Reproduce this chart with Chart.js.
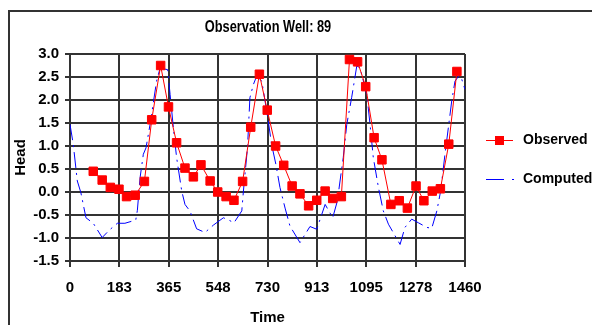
<!DOCTYPE html>
<html lang="en">
<head>
<meta charset="UTF-8">
<title>Observation Well: 89</title>
<script src="https://cdn.jsdelivr.net/npm/chart.js"></script>
<style>
  html, body { margin: 0; padding: 0; background: #fff; }
  #wrap { width: 592px; height: 325px; }
</style>
</head>
<body>
<div id="wrap"><canvas id="wellChart" width="592" height="325"></canvas></div>
<script>
const chartTitle = 'Observation Well: 89';
const xTickValues = [0, 182.5, 365, 547.5, 730, 912.5, 1095, 1277.5, 1460];
const xTickLabels = ['0', '183', '365', '548', '730', '913', '1095', '1278', '1460'];
const yTickLabels = ['-1.5', '-1.0', '-0.5', '0.0', '0.5', '1.0', '1.5', '2.0', '2.5', '3.0'];

// observed heads (red squares)
const obsDays = [86, 119, 149, 181, 209, 241, 275, 302, 335, 364, 394, 425, 456, 484, 518,
  546, 577, 606, 638, 668, 700, 729, 760, 790, 821, 850, 882, 912, 943, 971, 1003, 1033,
  1063, 1093, 1124, 1153, 1186, 1217, 1247, 1279, 1308, 1339, 1369, 1400, 1430];
const obsHead = [0.45, 0.26, 0.10, 0.06, -0.10, -0.07, 0.23, 1.57, 2.75, 1.85, 1.07, 0.52, 0.33, 0.59, 0.24,
  0.00, -0.10, -0.18, 0.23, 1.41, 2.56, 1.78, 1.00, 0.58, 0.13, -0.04, -0.30, -0.18, 0.02, -0.14, -0.10, 2.88,
  2.83, 2.29, 1.18, 0.70, -0.27, -0.19, -0.35, 0.13, -0.19, 0.02, 0.07, 1.04, 2.62];

// computed heads (blue dashed)
const compDays = [0, 12, 27, 40, 59, 86, 119, 145, 175, 203, 243, 249, 259, 271, 281, 296, 320, 333,
  361, 370, 382, 394, 413, 425, 444, 468, 499, 530, 567, 590, 606, 635, 641, 656, 665, 678, 690,
  709, 733, 745, 761, 776, 795, 813, 850, 887, 912, 943, 971, 988, 1010, 1023, 1041, 1060, 1072,
  1097, 1109, 1121, 1140, 1158, 1177, 1220, 1238, 1263, 1288, 1319, 1337, 1356, 1370, 1386, 1411,
  1423, 1442, 1460];
const compHead = [1.47, 1.04, 0.24, -0.01, -0.56, -0.68, -0.99, -0.83, -0.68, -0.68, -0.61, -0.40, 0.31, 0.82, 0.96, 1.47, 2.41, 2.69,
  2.66, 2.12, 1.40, 0.75, 0.02, -0.27, -0.42, -0.80, -0.88, -0.72, -0.56, -0.62, -0.67, -0.41, 0.02, 0.96, 2.05, 2.34, 2.52,
  2.41, 1.54, 1.04, 0.60, 0.10, -0.35, -0.74, -1.10, -0.75, -0.81, -0.27, -0.56, -0.20, 0.75, 1.47, 2.05, 2.74, 2.70,
  2.12, 1.47, 0.75, 0.10, -0.41, -0.70, -1.14, -0.77, -0.59, -0.67, -0.77, -0.79, -0.41, 0.02, 0.82, 1.98,
  2.41, 2.56, 2.23];

const tickFont = { family: '"Liberation Sans", Arial, sans-serif', size: 15, weight: 'bold' };
const gridColor = '#333';

const extras = {
  id: 'extras',
  beforeDraw(chart) {
    const ctx = chart.ctx;
    ctx.save();
    ctx.fillStyle = '#fff';
    ctx.fillRect(0, 0, chart.width, chart.height);
    ctx.strokeStyle = '#333';
    ctx.lineWidth = 2;
    ctx.beginPath();
    ctx.moveTo(9, chart.height);
    ctx.lineTo(9, 11);
    ctx.lineTo(chart.width, 11);
    ctx.stroke();
    ctx.restore();
  },
  afterDraw(chart) {
    const ctx = chart.ctx;
    const obs = chart.data.datasets[0];
    const comp = chart.data.datasets[1];
    ctx.save();
    ctx.fillStyle = '#000';
    ctx.textBaseline = 'middle';
    ctx.textAlign = 'center';
    // narrow bold title: squeeze a regular face horizontally
    ctx.font = 'bold 16px "Liberation Sans", Arial, sans-serif';
    ctx.save();
    ctx.translate(268, 28);
    ctx.scale(0.8, 1);
    ctx.fillText(chartTitle, 0, 0);
    ctx.restore();

    // legend
    ctx.lineWidth = 1;
    ctx.strokeStyle = obs.borderColor;
    ctx.beginPath();
    ctx.moveTo(486, 140.5);
    ctx.lineTo(513, 140.5);
    ctx.stroke();
    ctx.fillStyle = obs.pointBackgroundColor;
    ctx.fillRect(495, 136, 9, 9);

    ctx.strokeStyle = comp.borderColor;
    ctx.beginPath();
    ctx.moveTo(486, 179.5);
    ctx.lineTo(504, 179.5);
    ctx.stroke();
    ctx.fillStyle = comp.borderColor;
    ctx.fillRect(512, 179, 2, 1);

    ctx.fillStyle = '#000';
    ctx.textAlign = 'left';
    ctx.font = 'bold 14px "Liberation Sans", Arial, sans-serif';
    ctx.fillText(obs.label, 523, 140);
    ctx.fillText(comp.label, 523, 179);
    ctx.restore();
  }
};

new Chart(document.getElementById('wellChart'), {
  type: 'line',
  data: {
    datasets: [
      {
        label: 'Observed',
        data: obsDays.map((d, i) => ({ x: d, y: obsHead[i] })),
        borderColor: '#ff0000',
        backgroundColor: '#ff0000',
        pointBackgroundColor: '#ff0000',
        pointBorderColor: '#ff0000',
        pointStyle: 'rect',
        pointRadius: 6,
        pointBorderWidth: 1,
        borderWidth: 1,
        tension: 0,
        order: 1
      },
      {
        label: 'Computed',
        data: compDays.map((d, i) => ({ x: d, y: compHead[i] })),
        borderColor: '#0000ff',
        borderWidth: 1,
        borderDash: [16, 5, 2, 5],
        pointRadius: 0,
        tension: 0,
        order: 2
      }
    ]
  },
  options: {
    responsive: false,
    animation: false,
    events: [],
    layout: { padding: { left: 10, top: 54, right: 127, bottom: 0 } },
    plugins: {
      legend: { display: false },
      tooltip: { enabled: false }
    },
    scales: {
      x: {
        type: 'linear',
        min: 0,
        max: 1460,
        afterBuildTicks: scale => { scale.ticks = xTickValues.map(v => ({ value: v })); },
        afterFit: scale => { scale.height = 64; },
        ticks: {
          autoSkip: false,
          maxRotation: 0,
          padding: 12,
          color: '#000',
          font: tickFont,
          callback: (v, i) => xTickLabels[i]
        },
        grid: { color: gridColor, lineWidth: 2, tickLength: 6 },
        border: { color: gridColor, width: 2 },
        title: {
          display: true,
          text: 'Time',
          color: '#000',
          font: { family: '"Liberation Sans", Arial, sans-serif', size: 15, weight: 'bold', lineHeight: 1 },
          padding: { top: 0, bottom: 0 }
        }
      },
      y: {
        min: -1.5,
        max: 3.0,
        afterFit: scale => { scale.width = 60; },
        ticks: {
          stepSize: 0.5,
          padding: 6,
          color: '#000',
          font: tickFont,
          callback: (v, i) => yTickLabels[i]
        },
        grid: { color: gridColor, lineWidth: 2, tickLength: 5 },
        border: { color: gridColor, width: 2 },
        title: {
          display: true,
          text: 'Head',
          color: '#000',
          font: { family: '"Liberation Sans", Arial, sans-serif', size: 15, weight: 'bold', lineHeight: 1 },
          padding: { top: 3, bottom: 0 }
        }
      }
    }
  },
  plugins: [extras]
});
</script>
</body>
</html>
